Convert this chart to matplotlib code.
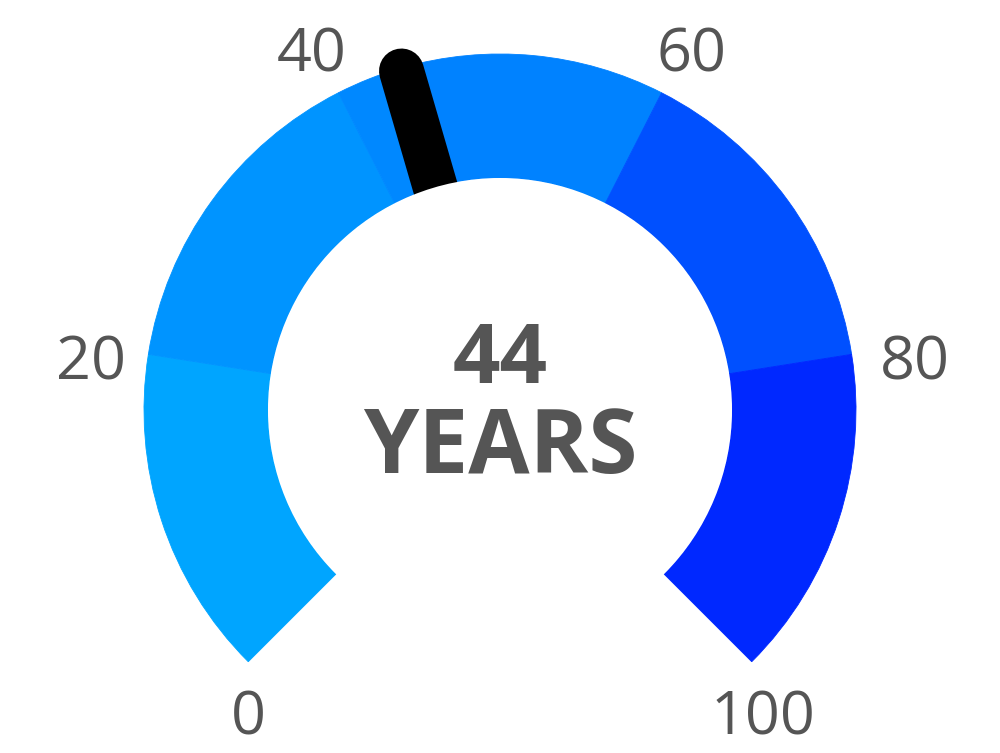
import numpy as np
import matplotlib.pyplot as plt
from matplotlib.patches import Wedge, Circle

# 仪表盘数据
band_edges = [0, 20, 40, 44, 60, 80, 100]
band_colors = ['#00a5ff', '#0094ff', '#0088ff', '#0082ff', '#0050ff', '#0028ff']
tick_values = [0, 20, 40, 60, 80, 100]
tick_labels = ['0', '20', '40', '60', '80', '100']
value = 44
value_text = '44'
unit_text = 'YEARS'

# 几何参数 (像素)
W, H = 1000, 753
cx, cy = 500, H - 410
r_out, r_in = 356, 232
grey = '#555555'


def angle(v):
    return 225 - 2.7 * v


fig = plt.figure(figsize=(10, 7.53), dpi=100)
ax = fig.add_axes([0, 0, 1, 1])
ax.set_xlim(0, W)
ax.set_ylim(0, H)
ax.axis('off')

# 色带
for i, c in enumerate(band_colors):
    w = Wedge((cx, cy), r_out, angle(band_edges[i + 1]), angle(band_edges[i]),
              width=r_out - r_in, facecolor=c, edgecolor=c, linewidth=0.6)
    ax.add_patch(w)

# 指针
a = np.radians(angle(value))
ax.plot([cx, cx + 353 * np.cos(a)], [cy, cy + 353 * np.sin(a)], color='black',
        linewidth=32.4, solid_capstyle='round', zorder=3)
ax.add_patch(Circle((cx, cy), r_in, facecolor='white', edgecolor='none', zorder=4))

# 刻度标签
for v, lab in zip(tick_values, tick_labels):
    t = np.radians(angle(v))
    px, py = cx + r_out * np.cos(t), cy + r_out * np.sin(t)
    left = np.cos(t) < 0
    if np.sin(t) < -0.5:
        x, y, ha = (px if left else px + 11), py - 73, 'center'
    elif abs(np.cos(t)) > 0.9:
        x, y = (px - 22 if left else px + 28), py - 25
        ha = 'right' if left else 'left'
    else:
        x, y = (px + 8 if left else px - 5), py + 21
        ha = 'right' if left else 'left'
    ax.text(x, y, lab, ha=ha, va='baseline', fontsize=44, color=grey,
            family='Open Sans', zorder=5)

# 中心文字
ax.text(cx, H - 383, value_text, ha='center', va='baseline', fontsize=60,
        fontweight='bold', color=grey, family='Open Sans', zorder=5)
ax.text(cx, H - 473, unit_text, ha='center', va='baseline', fontsize=64,
        fontweight='bold', color=grey, family='Open Sans', zorder=5)

fig.savefig('out.png', dpi=100)
